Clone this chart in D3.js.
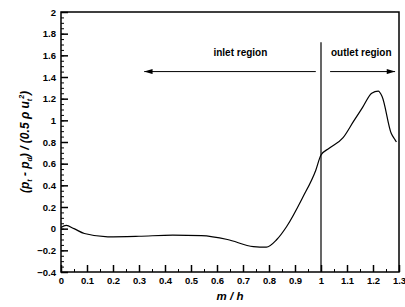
<!DOCTYPE html>
<html>
<head>
<meta charset="utf-8">
<script src="https://cdn.jsdelivr.net/npm/d3@7"></script>
<style>
  body { margin: 0; background: #fff; }
  text { font-family: "Liberation Sans", Arial, sans-serif; font-weight: bold; }
</style>
</head>
<body>
<div class="chart"></div>
<script>
// pressure curve
const mh = [0, 0.02, 0.05, 0.09, 0.18, 0.30, 0.43, 0.54, 0.64, 0.74, 0.79, 0.83, 0.868, 0.93, 0.98, 1.0,
            1.03, 1.085, 1.125, 1.16, 1.195, 1.22, 1.235, 1.27, 1.285, 1.29];
const cp = [0.01, 0.03, 0.0, -0.045, -0.075, -0.07, -0.06, -0.065, -0.10, -0.165, -0.17, -0.10, 0.02, 0.29, 0.54, 0.68,
            0.74, 0.84, 0.99, 1.12, 1.25, 1.27, 1.22, 0.88, 0.82, 0.80];
const xTicks = [0, 0.1, 0.2, 0.3, 0.4, 0.5, 0.6, 0.7, 0.8, 0.9, 1, 1.1, 1.2, 1.3];
const yTicks = [-0.4, -0.2, 0, 0.2, 0.4, 0.6, 0.8, 1, 1.2, 1.4, 1.6, 1.8, 2];

const W = 405, H = 307;
const margin = {left: 61, right: 6, top: 12, bottom: 35};

const svg = d3.select('.chart')
  .append('svg')
  .attr('width', W)
  .attr('height', H);

const x = d3.scaleLinear().domain([0, 1.3]).range([margin.left, W - margin.right]);
const y = d3.scaleLinear().domain([-0.4, 2]).range([H - margin.bottom, margin.top]);

// minor ticks
svg.append('g')
  .attr('transform', `translate(${margin.left},0)`)
  .call(d3.axisRight(y).tickValues(d3.range(-0.4, 2.001, 0.05)).tickSize(3).tickFormat(''))
  .call(g => g.select('.domain').remove());
svg.append('g')
  .attr('transform', `translate(0,${H - margin.bottom})`)
  .call(d3.axisTop(x).tickValues(d3.range(0, 1.301, 0.05)).tickSize(3).tickFormat(''))
  .call(g => g.select('.domain').remove());

// major ticks + labels
const yAxis = svg.append('g')
  .attr('transform', `translate(${margin.left},0)`)
  .call(d3.axisRight(y).tickValues(yTicks).tickSize(7).tickFormat(d3.format('')));
yAxis.selectAll('.tick line').attr('stroke-width', 1.5);
yAxis.selectAll('.tick text').attr('x', -5).attr('text-anchor', 'end').attr('font-size', 9.5);
yAxis.select('.domain').remove();

const xAxis = svg.append('g')
  .attr('transform', `translate(0,${H - margin.bottom})`)
  .call(d3.axisTop(x).tickValues(xTicks).tickSize(7).tickFormat(d3.format('')));
xAxis.selectAll('.tick line').attr('stroke-width', 1.5);
xAxis.selectAll('.tick text').attr('y', 12).attr('dy', 0).attr('font-size', 9.5);
xAxis.select('.domain').remove();

// frame
svg.append('rect')
  .attr('x', margin.left).attr('y', margin.top)
  .attr('width', W - margin.left - margin.right)
  .attr('height', H - margin.top - margin.bottom)
  .attr('fill', 'none').attr('stroke', '#000').attr('stroke-width', 1.5);

// curve
const line = d3.line().x((d, i) => x(d)).y((d, i) => y(cp[i])).curve(d3.curveMonotoneX);
svg.append('path')
  .attr('d', line(mh))
  .attr('fill', 'none')
  .attr('stroke', '#000')
  .attr('stroke-width', 1.2);

// inlet/outlet divider
svg.append('line')
  .attr('x1', x(1)).attr('x2', x(1))
  .attr('y1', y(1.72)).attr('y2', y(-0.4))
  .attr('stroke', '#000').attr('stroke-width', 1.2);

svg.append('defs').append('marker')
  .attr('id', 'arr').attr('viewBox', '0 0 10 6').attr('refX', 10).attr('refY', 3)
  .attr('markerWidth', 10).attr('markerHeight', 5).attr('markerUnits', 'userSpaceOnUse')
  .attr('orient', 'auto')
  .append('path').attr('d', 'M0,0L10,3L0,6Z').attr('fill', '#000');

svg.append('line')
  .attr('x1', x(0.98)).attr('x2', x(0.32))
  .attr('y1', y(1.45)).attr('y2', y(1.45))
  .attr('stroke', '#000').attr('stroke-width', 1)
  .attr('marker-end', 'url(#arr)');
svg.append('line')
  .attr('x1', x(1.035)).attr('x2', x(1.285))
  .attr('y1', y(1.45)).attr('y2', y(1.45))
  .attr('stroke', '#000').attr('stroke-width', 1)
  .attr('marker-end', 'url(#arr)');

svg.append('text').attr('x', x(0.69)).attr('y', y(1.59))
  .attr('text-anchor', 'middle').attr('font-size', 10).text('inlet region');
svg.append('text').attr('x', x(1.155)).attr('y', y(1.59))
  .attr('text-anchor', 'middle').attr('font-size', 10).text('outlet region');

// axis titles
svg.append('text')
  .attr('x', x(0.65)).attr('y', 300)
  .attr('text-anchor', 'middle').attr('font-size', 11.5).attr('font-style', 'italic')
  .text('m / h');

const yt = svg.append('text')
  .attr('transform', `translate(29,${(margin.top + H - margin.bottom) / 2}) rotate(-90)`)
  .attr('text-anchor', 'middle').attr('font-size', 12).attr('font-style', 'italic');
yt.append('tspan').text('(p');
yt.append('tspan').attr('font-size', 7).attr('dy', 3).text('t');
yt.append('tspan').attr('dy', -3).text(' - p');
yt.append('tspan').attr('font-size', 7).attr('dy', 3).text('d');
yt.append('tspan').attr('dy', -3).text(') / (0.5 ρ u');
yt.append('tspan').attr('font-size', 7).attr('dy', 3).text('t');
yt.append('tspan').attr('font-size', 7).attr('dy', -8).text('2');
yt.append('tspan').attr('dy', 5).text(')');
</script>
</body>
</html>
